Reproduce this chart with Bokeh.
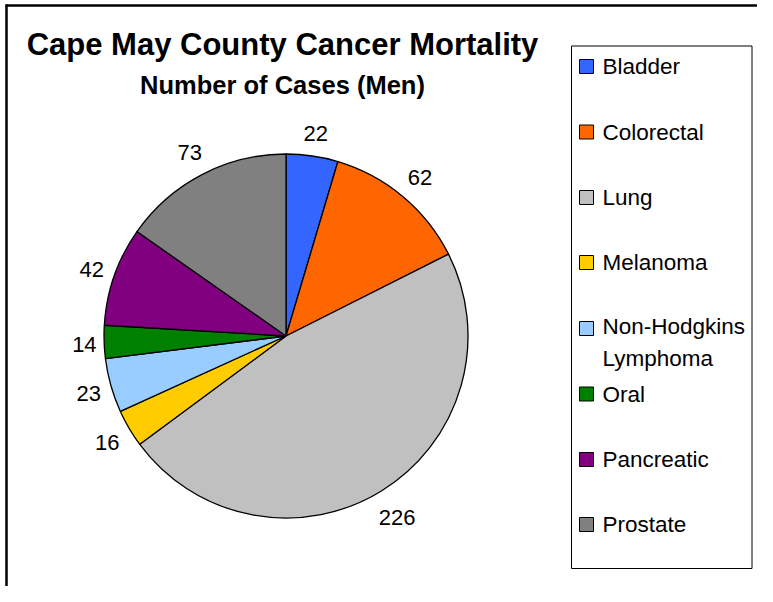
import math
from bokeh.plotting import figure
from bokeh.models import Range1d, ColumnDataSource
from bokeh.core.properties import value
from bokeh.embed import file_html
from bokeh.resources import INLINE

# ---- data ----
categories = ["Bladder", "Colorectal", "Lung", "Melanoma", "Non-Hodgkins Lymphoma",
              "Oral", "Pancreatic", "Prostate"]
legend_labels = ["Bladder", "Colorectal", "Lung", "Melanoma", "Non-Hodgkins\nLymphoma",
                 "Oral", "Pancreatic", "Prostate"]
cases = [22, 62, 226, 16, 23, 14, 42, 73]
colors = ["#3366FF", "#FF6600", "#C0C0C0", "#FFCC00", "#99CCFF", "#008000", "#800080", "#808080"]
title_text = "Cape May County Cancer Mortality"
subtitle_text = "Number of Cases (Men)"

FONT = "Liberation Sans"
W, H = 757, 586
OX, OY = 0, 0


def X(sx):
    return sx


def Y(sy):
    return -sy


p = figure(width=W, height=H, output_backend="svg", toolbar_location=None,
           x_range=Range1d(OX, OX + W), y_range=Range1d(-(OY + H), -OY),
           x_axis_location=None, y_axis_location=None, min_border=0,
           background_fill_color="white", border_fill_color="white")
p.grid.visible = False
p.outline_line_color = None

# chart border (top and left visible; the rest runs off the page)
p.segment(x0=[X(5), X(6)], y0=[Y(5), Y(4)],
          x1=[X(OX + W), X(6)], y1=[Y(5), Y(OY + H)],
          line_color="black", line_width=2.5)

# ---- pie ----
cx, cy, r = 285.5, 335.5, 182.0
total = float(sum(cases))
starts, ends, mids = [], [], []
cum = 0.0
for v in cases:
    a0 = cum / total * 2 * math.pi
    cum += v
    a1 = cum / total * 2 * math.pi
    starts.append(math.pi / 2 - a0)
    ends.append(math.pi / 2 - a1)
    mids.append((a0 + a1) / 2)

src = ColumnDataSource(dict(start=starts, end=ends, color=colors, cat=categories, val=cases))
p.wedge(x=X(cx), y=Y(cy), radius=r, start_angle="start", end_angle="end",
        direction="clock", fill_color="color", line_color="black", line_width=1.3,
        source=src)

# ---- data labels ----
fs = 22
lx, ly, lt = [], [], []
for v, th in zip(cases, mids):
    s = str(v)
    w = len(s) * 0.556 * fs
    h = 31
    d = r + 7 + abs(math.sin(th)) * w / 2 + abs(math.cos(th)) * h / 2
    lx.append(X(cx + d * math.sin(th)))
    ly.append(Y(cy - d * math.cos(th) + 1.5))
    lt.append(s)
p.text(x=lx, y=ly, text=lt, text_font=value(FONT), text_font_size=f"{fs}px",
       text_align="center", text_baseline="middle", text_color="black")

# ---- title ----
p.text(x=[X(282)], y=[Y(44)], text=[title_text], text_font=value(FONT),
       text_font_size="31px", text_font_style="bold", text_align="center",
       text_baseline="middle", text_color="black")
p.text(x=[X(282)], y=[Y(84)], text=[subtitle_text], text_font=value(FONT),
       text_font_size="25.5px", text_font_style="bold", text_align="center",
       text_baseline="middle", text_color="black")

# ---- legend ----
bx0, by0, bx1, by1 = 571, 45.5, 751.5, 568
p.quad(left=X(bx0), right=X(bx1), top=Y(by0), bottom=Y(by1),
       fill_color="white", line_color="black", line_width=1)
item_y = [66, 131.5, 197, 262, 342, 393.5, 459, 524]
sq_y = [66, 131.5, 197, 262, 328, 393.5, 459, 524]
p.rect(x=[X(586)] * len(categories), y=[Y(v) for v in sq_y], width=14, height=14,
       fill_color=colors, line_color="black", line_width=1)
p.text(x=[X(602)] * len(categories), y=[Y(v) for v in item_y], text=legend_labels,
       text_font=value(FONT), text_font_size="22.5px", text_align="left",
       text_baseline="middle", text_color="black", text_line_height=1.28)

open("out.html", "w").write(file_html(p, INLINE))
